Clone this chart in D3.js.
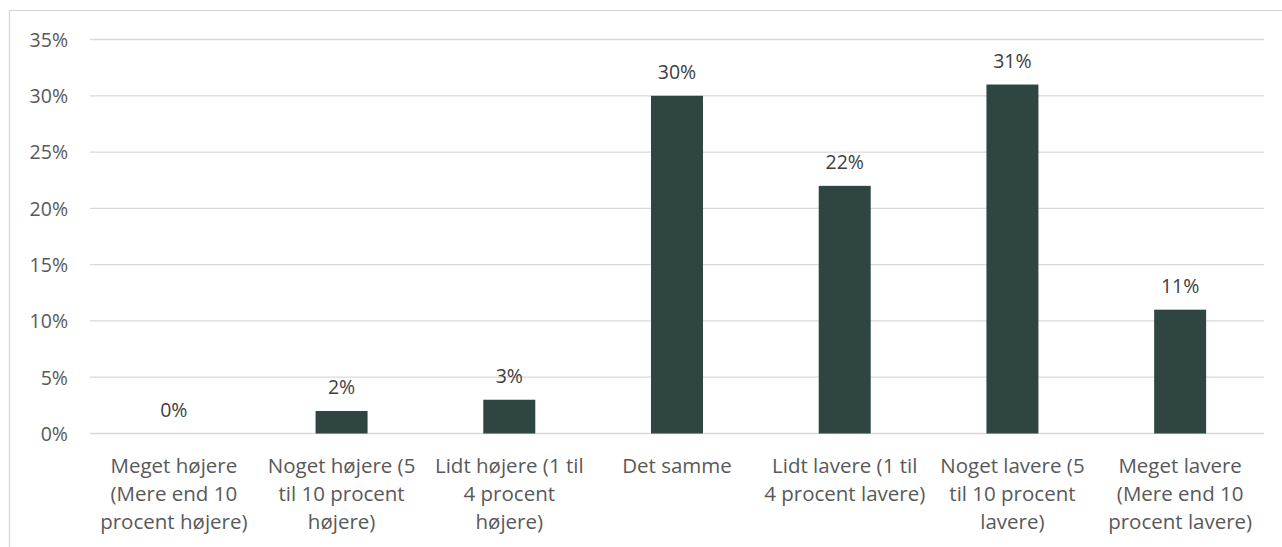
<!DOCTYPE html>
<html><head><meta charset="utf-8">
<script src="https://cdn.jsdelivr.net/npm/d3@7"></script>
<style>html,body{margin:0;padding:0;background:#fff;}svg{display:block;}</style>
</head><body>
<svg id="chart" width="1282" height="547"></svg>
<script>
const categories = [
  "Meget højere\n(Mere end 10\nprocent højere)",
  "Noget højere (5\ntil 10 procent\nhøjere)",
  "Lidt højere (1 til\n4 procent\nhøjere)",
  "Det samme",
  "Lidt lavere (1 til\n4 procent lavere)",
  "Noget lavere (5\ntil 10 procent\nlavere)",
  "Meget lavere\n(Mere end 10\nprocent lavere)"
];
const values = [0, 2, 3, 30, 22, 31, 11];
const yTicks = [0, 5, 10, 15, 20, 25, 30, 35];

const svg = d3.select("#chart");
const font = "'Open Sans', sans-serif";
const fs = 19.5;
const catFs = 20.5;
const textColor = "#595959";
const gridColor = "#d9d9d9";
const barColor = "#2f4541";

// chart border
svg.append("rect").attr("x", 9.5).attr("y", 10.5).attr("width", 1400).attr("height", 700)
  .attr("fill", "none").attr("stroke", gridColor).attr("stroke-width", 1.3);

const x = d3.scaleBand().domain(categories).range([90, 1264]).paddingInner(0.69).paddingOuter(0.345);
const y = d3.scaleLinear().domain([0, 35]).range([433.5, 39.5]);

// gridlines
svg.append("g").selectAll("line").data(yTicks).join("line")
  .attr("x1", 90).attr("x2", 1264)
  .attr("y1", d => y(d)).attr("y2", d => y(d))
  .attr("stroke", gridColor).attr("stroke-width", 1.3);

// y axis labels
const yAxis = d3.axisLeft(y).tickValues(yTicks).tickFormat(d => d + "%").tickSize(0).tickPadding(0);
const yg = svg.append("g").attr("transform", "translate(68,0)").call(yAxis);
yg.select(".domain").remove();
yg.selectAll("text").attr("font-family", font).attr("font-size", fs).attr("fill", textColor).attr("dy", "0.35em");

// bars
svg.append("g").selectAll("rect").data(values).join("rect")
  .attr("x", (d, i) => x(categories[i]))
  .attr("width", x.bandwidth())
  .attr("y", d => y(d))
  .attr("height", d => y(0) - y(d))
  .attr("fill", barColor);

// value labels
svg.append("g").selectAll("text").data(values).join("text")
  .attr("x", (d, i) => x(categories[i]) + x.bandwidth() / 2)
  .attr("y", d => y(d) - 17)
  .attr("text-anchor", "middle")
  .attr("font-family", font).attr("font-size", fs).attr("fill", "#404040")
  .text(d => d + "%");

// category labels
const xAxis = d3.axisBottom(x).tickSize(0).tickFormat("");
const xg = svg.append("g").attr("transform", "translate(0,433.5)").call(xAxis);
xg.select(".domain").remove();
xg.selectAll(".tick").each(function(d) {
  const t = d3.select(this).append("text")
    .attr("text-anchor", "middle")
    .attr("font-family", font).attr("font-size", catFs).attr("fill", textColor);
  d.split("\n").forEach((line, i) => {
    t.append("tspan").attr("x", 0).attr("y", 39 + i * 28).text(line);
  });
});
</script>
</body></html>
